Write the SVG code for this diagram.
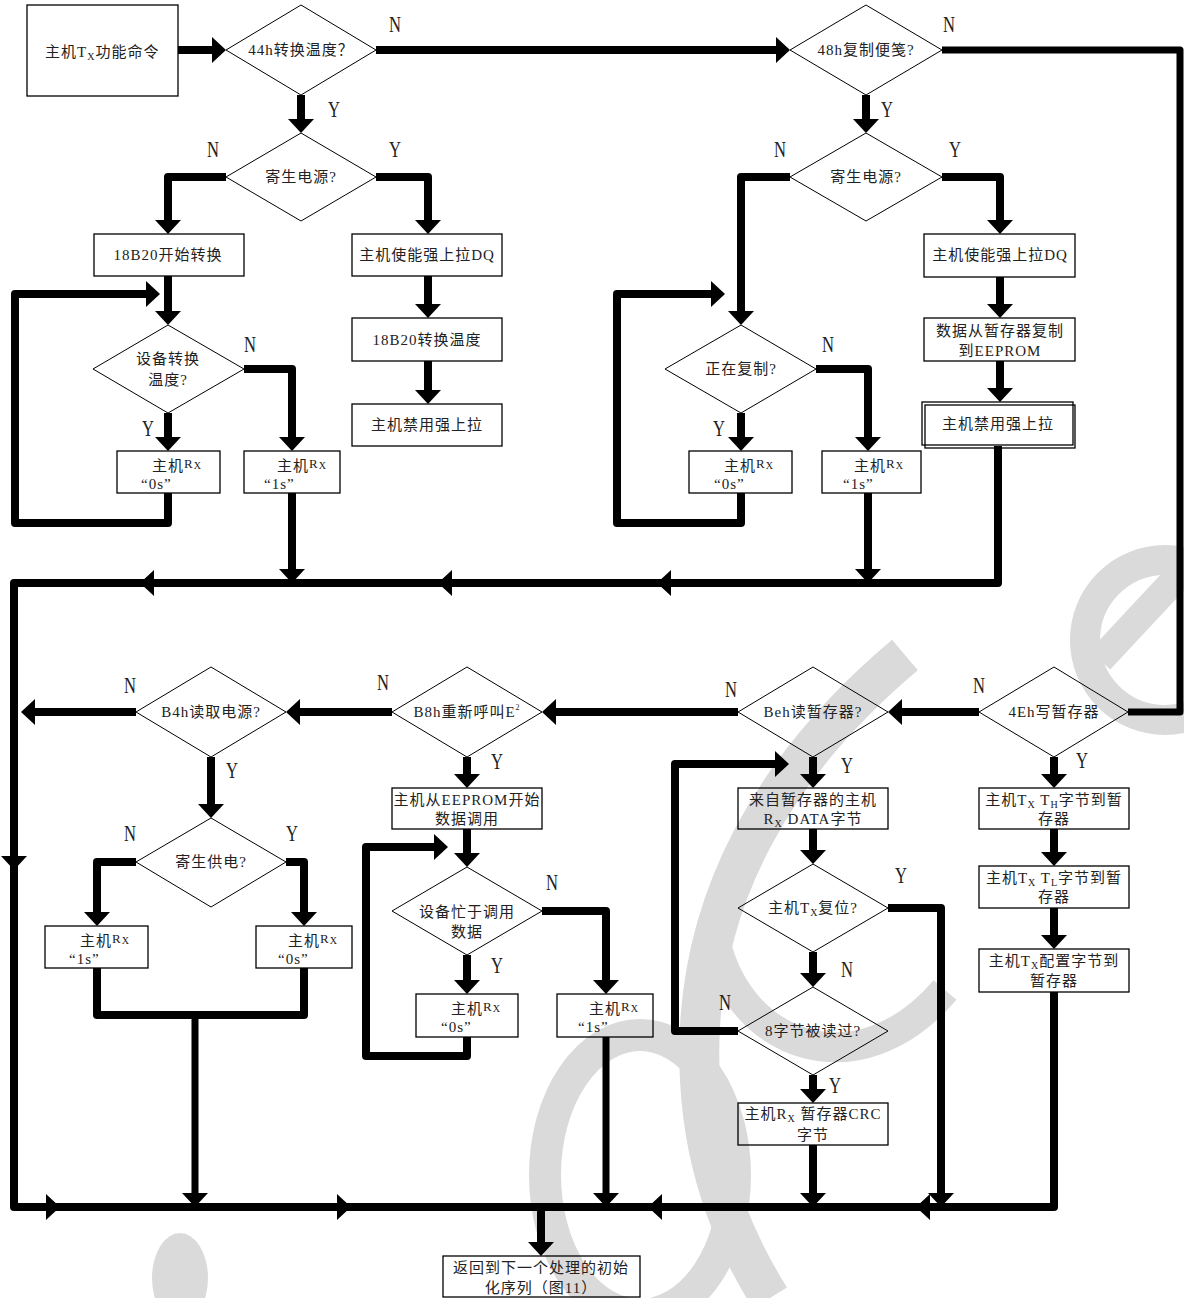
<svg xmlns="http://www.w3.org/2000/svg" width="1184" height="1298" viewBox="0 0 1184 1298">
<defs>
<style>
.box{fill:none;stroke:#000;stroke-width:1.3}
.dia{fill:none;stroke:#000;stroke-width:1}
.ln{fill:none;stroke:#000;stroke-width:8;stroke-linejoin:round}
.t{font-family:"Liberation Serif","Noto Sans CJK SC",sans-serif;font-size:15px;fill:#222;letter-spacing:1px}
.c{text-anchor:middle}
.lb{font-family:"Liberation Serif",serif;font-size:24px;fill:#222;text-anchor:middle}
.s{font-size:10px}
.wm{fill:none;stroke:#dadada}
</style>
<marker id="ah" markerUnits="userSpaceOnUse" markerWidth="14" markerHeight="26" viewBox="0 0 14 26" refX="9" refY="13" orient="auto"><path d="M0,0 L14,13 L0,26 z" fill="#000"/></marker>
</defs>
<rect width="1184" height="1298" fill="#fff"/>
<g id="watermark">
<path class="wm" stroke-width="40" d="M905,655 C780,760 690,900 700,1080 C705,1180 740,1250 770,1298"/>
<path class="wm" stroke-width="30" d="M715,940 C740,1050 860,1090 945,990"/>
<ellipse class="wm" stroke-width="32" cx="640" cy="1175" rx="95" ry="140"/>
<circle class="wm" stroke-width="30" cx="1165" cy="640" r="80"/>
<path class="wm" stroke-width="28" d="M1184,570 L1100,660"/>
<ellipse cx="180" cy="1278" rx="28" ry="45" fill="#dadada"/>
</g>
<g id="connectors" class="ln">
<path d="M178,50 H221" marker-end="url(#ah)"/>
<path d="M376,50 H785" marker-end="url(#ah)"/>
<path d="M942,50 H1180 V712 H1128" stroke-width="7"/>
<path d="M301,95 V128" marker-end="url(#ah)"/>
<path d="M226,177 H168 V229" marker-end="url(#ah)"/>
<path d="M376,177 H428 V229" marker-end="url(#ah)"/>
<path d="M428,276 V313" marker-end="url(#ah)"/>
<path d="M428,361 V399" marker-end="url(#ah)"/>
<path d="M168,276 V320" marker-end="url(#ah)"/>
<path d="M168,493 V523 H15 V294 H155" marker-end="url(#ah)"/>
<path d="M168,413 V446" marker-end="url(#ah)"/>
<path d="M244,369 H292 V446" marker-end="url(#ah)"/>
<path d="M292,493 V578" marker-end="url(#ah)"/>
<path d="M998,446 V583 H14 V1207 H1054 V992"/>
<path d="M160,583 H145" marker-end="url(#ah)"/>
<path d="M458,583 H443" marker-end="url(#ah)"/>
<path d="M677,583 H662" marker-end="url(#ah)"/>
<path d="M14,850 V865" marker-end="url(#ah)"/>
<path d="M40,1207 H55" marker-end="url(#ah)"/>
<path d="M331,1207 H346" marker-end="url(#ah)"/>
<path d="M668,1207 H653" marker-end="url(#ah)"/>
<path d="M936,1207 H921" marker-end="url(#ah)"/>
<path d="M541,1207 V1251" marker-end="url(#ah)"/>
<path d="M866,95 V128" marker-end="url(#ah)"/>
<path d="M942,177 H1000 V229" marker-end="url(#ah)"/>
<path d="M1000,277 V313" marker-end="url(#ah)"/>
<path d="M1000,361 V397" marker-end="url(#ah)"/>
<path d="M790,177 H741 V320" marker-end="url(#ah)"/>
<path d="M741,493 V523 H617 V294 H720" marker-end="url(#ah)"/>
<path d="M741,413 V446" marker-end="url(#ah)"/>
<path d="M816,369 H868 V446" marker-end="url(#ah)"/>
<path d="M868,493 V578" marker-end="url(#ah)"/>
<path d="M979,712 H893" marker-end="url(#ah)"/>
<path d="M738,712 H547" marker-end="url(#ah)"/>
<path d="M392,712 H291" marker-end="url(#ah)"/>
<path d="M136,712 H26" marker-end="url(#ah)"/>
<path d="M211,757 V813" marker-end="url(#ah)"/>
<path d="M136,862 H97 V921" marker-end="url(#ah)"/>
<path d="M286,862 H304 V921" marker-end="url(#ah)"/>
<path d="M97,968 V1015 H304 V968"/>
<path d="M195,1015 V1202" stroke-width="7" marker-end="url(#ah)"/>
<path d="M467,757 V783" marker-end="url(#ah)"/>
<path d="M467,829 V862" marker-end="url(#ah)"/>
<path d="M467,1037 V1056 H366 V847 H443" marker-end="url(#ah)"/>
<path d="M467,955 V989" marker-end="url(#ah)"/>
<path d="M542,911 H606 V989" marker-end="url(#ah)"/>
<path d="M606,1037 V1202" stroke-width="7" marker-end="url(#ah)"/>
<path d="M813,757 V783" marker-end="url(#ah)"/>
<path d="M738,1031 H675 V764 H784" marker-end="url(#ah)"/>
<path d="M813,829 V859" marker-end="url(#ah)"/>
<path d="M888,908 H941 V1202" marker-end="url(#ah)"/>
<path d="M813,952 V982" marker-end="url(#ah)"/>
<path d="M813,1075 V1098" marker-end="url(#ah)"/>
<path d="M813,1145 V1202" marker-end="url(#ah)"/>
<path d="M1054,757 V783" marker-end="url(#ah)"/>
<path d="M1054,829 V861" marker-end="url(#ah)"/>
<path d="M1054,908 V944" marker-end="url(#ah)"/>
</g>
<g id="n_start"><rect class="box" x="27" y="5" width="151" height="91"/><text class="t" x="45" y="57">主机T<tspan class="s" dy="3">X</tspan><tspan dy="-3">功能命令</tspan></text></g>
<g id="d_44h"><polygon class="dia" points="226,50 301,5 376,50 301,95"/><text class="t c" x="301" y="55">44h转换温度？</text></g>
<g id="d_parasite1"><polygon class="dia" points="226,177 301,133 376,177 301,221"/><text class="t c" x="301" y="182">寄生电源?</text></g>
<g id="b_start_conv"><rect class="box" x="94" y="234" width="150" height="42"/><text class="t c" x="168" y="260">18B20开始转换</text></g>
<g id="b_pullup1"><rect class="box" x="352" y="234" width="150" height="42"/><text class="t c" x="427" y="260">主机使能强上拉DQ</text></g>
<g id="b_conv"><rect class="box" x="352" y="318" width="150" height="43"/><text class="t c" x="427" y="345">18B20转换温度</text></g>
<g id="b_disable1"><rect class="box" x="352" y="404" width="150" height="42"/><text class="t c" x="427" y="430">主机禁用强上拉</text></g>
<g id="d_converting"><polygon class="dia" points="93,369 168,325 244,369 168,413"/><text class="t c" x="168" y="364">设备转换</text><text class="t c" x="168" y="385">温度?</text></g>
<g id="b_rx0s_a"><rect class="box" x="117" y="451" width="103" height="42"/><text class="t" x="152" y="471">主机<tspan dy="-3" font-size="13px">R</tspan><tspan class="s" dy="1">X</tspan></text><text class="t" x="141" y="489">“0s”</text></g>
<g id="b_rx1s_a"><rect class="box" x="244" y="451" width="96" height="42"/><text class="t" x="277" y="471">主机<tspan dy="-3" font-size="13px">R</tspan><tspan class="s" dy="1">X</tspan></text><text class="t" x="264" y="489">“1s”</text></g>
<g id="d_48h"><polygon class="dia" points="790,50 866,5 942,50 866,95"/><text class="t c" x="866" y="55">48h复制便笺?</text></g>
<g id="d_parasite2"><polygon class="dia" points="790,177 866,133 942,177 866,221"/><text class="t c" x="866" y="182">寄生电源?</text></g>
<g id="b_pullup2"><rect class="box" x="924" y="234" width="151" height="43"/><text class="t c" x="1000" y="260">主机使能强上拉DQ</text></g>
<g id="b_copydata"><rect class="box" x="924" y="318" width="151" height="43"/><text class="t c" x="1000" y="336">数据从暂存器复制</text><text class="t c" x="1000" y="356">到EEPROM</text></g>
<g id="b_disable2"><rect class="box" x="922" y="402" width="151" height="43"/><rect class="box" x="925" y="405" width="150" height="43" stroke-width="1"/><text class="t c" x="998" y="429">主机禁用强上拉</text></g>
<g id="d_copying"><polygon class="dia" points="665,369 741,325 816,369 741,413"/><text class="t c" x="741" y="374">正在复制?</text></g>
<g id="b_rx0s_b"><rect class="box" x="689" y="451" width="103" height="42"/><text class="t" x="724" y="471">主机<tspan dy="-3" font-size="13px">R</tspan><tspan class="s" dy="1">X</tspan></text><text class="t" x="714" y="489">“0s”</text></g>
<g id="b_rx1s_b"><rect class="box" x="822" y="451" width="99" height="42"/><text class="t" x="854" y="471">主机<tspan dy="-3" font-size="13px">R</tspan><tspan class="s" dy="1">X</tspan></text><text class="t" x="843" y="489">“1s”</text></g>
<g id="d_b4h"><polygon class="dia" points="136,712 211,667 286,712 211,757"/><text class="t c" x="211" y="717">B4h读取电源?</text></g>
<g id="d_parasite3"><polygon class="dia" points="136,862 211,818 286,862 211,907"/><text class="t c" x="211" y="867">寄生供电?</text></g>
<g id="b_rx1s_c"><rect class="box" x="45" y="926" width="103" height="42"/><text class="t" x="80" y="946">主机<tspan dy="-3" font-size="13px">R</tspan><tspan class="s" dy="1">X</tspan></text><text class="t" x="69" y="964">“1s”</text></g>
<g id="b_rx0s_c"><rect class="box" x="256" y="926" width="96" height="42"/><text class="t" x="288" y="946">主机<tspan dy="-3" font-size="13px">R</tspan><tspan class="s" dy="1">X</tspan></text><text class="t" x="278" y="964">“0s”</text></g>
<g id="d_b8h"><polygon class="dia" points="392,712 467,667 542,712 467,757"/><text class="t c" x="467" y="717">B8h重新呼叫E<tspan font-size="8px" dy="-7">2</tspan></text></g>
<g id="b_recall"><rect class="box" x="392" y="788" width="150" height="41"/><text class="t c" x="467" y="805">主机从EEPROM开始</text><text class="t c" x="467" y="824">数据调用</text></g>
<g id="d_busy"><polygon class="dia" points="392,911 467,867 542,911 467,955"/><text class="t c" x="467" y="917">设备忙于调用</text><text class="t c" x="467" y="937">数据</text></g>
<g id="b_rx0s_d"><rect class="box" x="416" y="994" width="102" height="43"/><text class="t" x="451" y="1014">主机<tspan dy="-3" font-size="13px">R</tspan><tspan class="s" dy="1">X</tspan></text><text class="t" x="441" y="1032">“0s”</text></g>
<g id="b_rx1s_d"><rect class="box" x="557" y="994" width="96" height="43"/><text class="t" x="589" y="1014">主机<tspan dy="-3" font-size="13px">R</tspan><tspan class="s" dy="1">X</tspan></text><text class="t" x="578" y="1032">“1s”</text></g>
<g id="d_beh"><polygon class="dia" points="738,712 813,667 888,712 813,757"/><text class="t c" x="813" y="717">Beh读暂存器?</text></g>
<g id="b_rxdata"><rect class="box" x="738" y="788" width="150" height="41"/><text class="t c" x="813" y="805">来自暂存器的主机</text><text class="t c" x="813" y="824">R<tspan class="s" dy="3">X</tspan><tspan dy="-3"> DATA字节</tspan></text></g>
<g id="d_reset"><polygon class="dia" points="738,908 813,864 888,908 813,952"/><text class="t c" x="813" y="913">主机T<tspan class="s" dy="3">X</tspan><tspan dy="-3">复位?</tspan></text></g>
<g id="d_8bytes"><polygon class="dia" points="738,1031 813,987 888,1031 813,1075"/><text class="t c" x="813" y="1036">8字节被读过?</text></g>
<g id="b_crc"><rect class="box" x="738" y="1103" width="150" height="42"/><text class="t c" x="813" y="1119">主机R<tspan class="s" dy="3">X</tspan><tspan dy="-3"> 暂存器CRC</tspan></text><text class="t c" x="813" y="1140">字节</text></g>
<g id="d_4eh"><polygon class="dia" points="979,712 1054,667 1128,712 1054,757"/><text class="t c" x="1054" y="717">4Eh写暂存器</text></g>
<g id="b_th"><rect class="box" x="979" y="788" width="150" height="41"/><text class="t c" x="1054" y="805">主机T<tspan class="s" dy="3">X</tspan><tspan dy="-3"> T</tspan><tspan class="s" dy="3">H</tspan><tspan dy="-3">字节到暂</tspan></text><text class="t c" x="1054" y="824">存器</text></g>
<g id="b_tl"><rect class="box" x="979" y="866" width="150" height="42"/><text class="t c" x="1054" y="883">主机T<tspan class="s" dy="3">X</tspan><tspan dy="-3"> T</tspan><tspan class="s" dy="3">L</tspan><tspan dy="-3">字节到暂</tspan></text><text class="t c" x="1054" y="902">存器</text></g>
<g id="b_cfg"><rect class="box" x="979" y="949" width="150" height="43"/><text class="t c" x="1054" y="966">主机T<tspan class="s" dy="3">X</tspan><tspan dy="-3">配置字节到</tspan></text><text class="t c" x="1054" y="986">暂存器</text></g>
<g id="b_return"><rect class="box" x="443" y="1256" width="197" height="41"/><text class="t c" x="541" y="1273" letter-spacing="0">返回到下一个处理的初始</text><text class="t c" x="541" y="1293" letter-spacing="0">化序列（图11）</text></g>
<g id="labels">
<text class="lb" x="395" y="32" textLength="12" lengthAdjust="spacingAndGlyphs">N</text>
<text class="lb" x="334" y="117" textLength="12" lengthAdjust="spacingAndGlyphs">Y</text>
<text class="lb" x="213" y="157" textLength="12" lengthAdjust="spacingAndGlyphs">N</text>
<text class="lb" x="395" y="157" textLength="12" lengthAdjust="spacingAndGlyphs">Y</text>
<text class="lb" x="949" y="32" textLength="12" lengthAdjust="spacingAndGlyphs">N</text>
<text class="lb" x="887" y="117" textLength="12" lengthAdjust="spacingAndGlyphs">Y</text>
<text class="lb" x="780" y="157" textLength="12" lengthAdjust="spacingAndGlyphs">N</text>
<text class="lb" x="955" y="157" textLength="12" lengthAdjust="spacingAndGlyphs">Y</text>
<text class="lb" x="250" y="352" textLength="12" lengthAdjust="spacingAndGlyphs">N</text>
<text class="lb" x="148" y="436" textLength="12" lengthAdjust="spacingAndGlyphs">Y</text>
<text class="lb" x="828" y="352" textLength="12" lengthAdjust="spacingAndGlyphs">N</text>
<text class="lb" x="719" y="436" textLength="12" lengthAdjust="spacingAndGlyphs">Y</text>
<text class="lb" x="130" y="693" textLength="12" lengthAdjust="spacingAndGlyphs">N</text>
<text class="lb" x="383" y="690" textLength="12" lengthAdjust="spacingAndGlyphs">N</text>
<text class="lb" x="232" y="778" textLength="12" lengthAdjust="spacingAndGlyphs">Y</text>
<text class="lb" x="130" y="841" textLength="12" lengthAdjust="spacingAndGlyphs">N</text>
<text class="lb" x="292" y="841" textLength="12" lengthAdjust="spacingAndGlyphs">Y</text>
<text class="lb" x="497" y="769" textLength="12" lengthAdjust="spacingAndGlyphs">Y</text>
<text class="lb" x="552" y="890" textLength="12" lengthAdjust="spacingAndGlyphs">N</text>
<text class="lb" x="497" y="973" textLength="12" lengthAdjust="spacingAndGlyphs">Y</text>
<text class="lb" x="731" y="697" textLength="12" lengthAdjust="spacingAndGlyphs">N</text>
<text class="lb" x="979" y="693" textLength="12" lengthAdjust="spacingAndGlyphs">N</text>
<text class="lb" x="847" y="773" textLength="12" lengthAdjust="spacingAndGlyphs">Y</text>
<text class="lb" x="1082" y="768" textLength="12" lengthAdjust="spacingAndGlyphs">Y</text>
<text class="lb" x="901" y="883" textLength="12" lengthAdjust="spacingAndGlyphs">Y</text>
<text class="lb" x="847" y="977" textLength="12" lengthAdjust="spacingAndGlyphs">N</text>
<text class="lb" x="725" y="1010" textLength="12" lengthAdjust="spacingAndGlyphs">N</text>
<text class="lb" x="835" y="1093" textLength="12" lengthAdjust="spacingAndGlyphs">Y</text>
</g>
</svg>
